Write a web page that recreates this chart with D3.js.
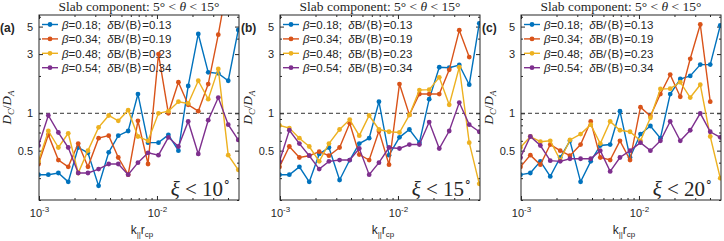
<!DOCTYPE html>
<html>
<head>
<meta charset="utf-8">
<script src="https://cdn.jsdelivr.net/npm/d3@7"></script>
<style>
  body { margin: 0; background: #fff; }
  text { fill: #262626; }
</style>
</head>
<body>
<div id="chart"></div>
<script>
// k_par r_cp bins (shared by all panels)
const kpar = [0.00099, 0.0012, 0.00146, 0.00177, 0.00215, 0.0026, 0.0032, 0.0039, 0.0047, 0.0057, 0.0069,
              0.0084, 0.0103, 0.0125, 0.0152, 0.0184, 0.0224, 0.0272, 0.0331, 0.0402, 0.0489];

const betas = ["0.18", "0.34", "0.48", "0.54"];
const dBs   = ["0.13", "0.19", "0.23", "0.34"];
const xiMax = [10, 15, 20];
const panelLabels = ["(a)", "(b)", "(c)"];

// D_C / D_A, panel (a): xi < 10
const dcA1 = [0.32, 0.32, 0.33, 0.28, 0.53, 0.48, 0.26, 0.485, 0.66, 0.72, 1.43, 0.58, 0.58, 0.67, 0.50, 1.66, 4.36, 2.14, 2.1, 1.83, 4.7];
const dcA2 = [0.39, 0.67, 0.42, 0.37, 0.57, 0.37, 0.63, 0.66, 0.44, 0.32, 0.87, 0.39, 3.0, 1.0, 1.78, 1.17, 1.04, 1.72, 4.3, 12, null];
const dcA3 = [0.41, 0.72, 0.53, 0.69, 0.33, 0.50, 0.77, 0.96, 0.87, 1.06, 0.65, 0.60, 1.0, 1.04, 1.24, 1.2, 1.83, 1.3, 2.28, 0.46, 0.35];
const dcA4 = [0.55, 0.96, 0.70, 0.53, 0.33, 0.33, 0.355, 0.39, 0.39, 0.32, 0.40, 0.48, 0.46, 0.64, 0.54, 0.86, 0.47, 0.88, 1.34, 0.81, 0.61];

// panel (b): xi < 15
const dcB1 = [0.32, 0.32, 0.37, 0.28, 0.47, 0.53, 0.29, 0.42, 0.57, 0.63, 1.24, 0.46, 0.64, 0.74, 0.58, 1.3, 2.35, 2.33, 2.45, 1.7, 5.3];
const dcB2 = [0.37, 0.54, 0.44, 0.455, 0.49, 0.455, 0.53, 0.83, 0.465, 0.42, 0.72, 0.385, 1.72, 0.97, 1.43, 1.43, 1.43, 2.24, 4.67, 2.84, null];
const dcB3 = [0.80, 0.76, 0.63, 0.54, 0.41, 0.57, 0.74, 0.89, 0.66, 0.96, 0.74, 0.71, 0.70, 0.97, 1.54, 1.55, 1.95, 1.17, 2.35, 0.58, 0.27];
const dcB4 = [0.41, 0.73, 0.57, 0.455, 0.355, 0.41, 0.42, 0.42, 0.52, 0.32, 0.40, 0.53, 0.52, 0.56, 0.56, 0.85, 0.52, 0.72, 1.22, 0.81, 0.71];

// panel (c): xi < 20
const dcC1 = [0.32, 0.33, 0.41, 0.31, 0.44, 0.60, 0.28, 0.41, 0.55, 0.56, 1.04, 0.44, 0.68, 0.79, 0.63, 1.43, 1.89, 2.0, 2.47, 2.47, 5.1];
const dcC2 = [0.37, 0.46, 0.385, 0.56, 0.50, 0.455, 0.56, 0.86, 0.44, 0.42, 0.60, 0.42, 1.12, 0.95, 1.43, 2.05, 1.36, 2.75, 5.2, 1.24, null];
const dcC3 = [0.53, 0.65, 0.59, 0.60, 0.42, 0.61, 0.68, 0.81, 0.57, 0.86, 0.73, 0.71, 0.60, 0.92, 1.57, 1.58, 1.78, 1.34, 1.7, 0.65, 0.30];
const dcC4 = [0.44, 0.65, 0.55, 0.415, 0.41, 0.43, 0.43, 0.43, 0.50, 0.34, 0.44, 0.50, 0.58, 0.50, 0.60, 0.86, 0.60, 0.73, 1.0, 0.71, 0.64];

const panels = [[dcA1, dcA2, dcA3, dcA4], [dcB1, dcB2, dcB3, dcB4], [dcC1, dcC2, dcC3, dcC4]];
const colors = ["#0072BD", "#D95319", "#EDB120", "#7E2F8E"];

const yMajor = [0.5, 1, 3, 5];
const yMinor = [0.2, 0.3, 0.4, 0.6, 0.7, 0.8, 0.9, 2, 4, 6];
const xMajor = [1e-3, 1e-2];
const xMinor = [2e-3, 3e-3, 4e-3, 5e-3, 6e-3, 7e-3, 8e-3, 9e-3, 2e-2, 3e-2, 4e-2];

const W = 724, H = 241;
const panelLeft = [39, 280, 521],
      plotTop = 15,
      pw = 200,
      ph = 185;

const svg = d3.select("#chart")
              .append("svg")
              .attr("width", W)
              .attr("height", H);

const x = d3.scaleLog().domain([1e-3, 0.0496]).range([0, pw]);
const y = d3.scaleLog().domain([0.2, 6.2]).range([ph, 0]);

const sans = "Liberation Sans, Arial, sans-serif";
const serif = "Liberation Serif, Times New Roman, serif";

panels.forEach((series, p) => {
    const g = svg.append("g")
                 .attr("transform", `translate(${panelLeft[p]},${plotTop})`);

    const clipId = "clip" + p;
    g.append("clipPath").attr("id", clipId)
     .append("rect").attr("width", pw).attr("height", ph);

    // axes: ticks point inwards, box on
    const axisStyle = sel => {
        sel.select(".domain").remove();
        sel.selectAll("line").attr("stroke", "#262626");
        sel.selectAll("text").attr("font-family", sans).attr("font-size", 11).attr("fill", "#262626");
    };

    g.append("g")
     .call(d3.axisLeft(y).tickValues(yMajor).tickFormat(d3.format("")).tickSizeInner(-4).tickPadding(6))
     .call(axisStyle);
    g.append("g")
     .call(d3.axisLeft(y).tickValues(yMinor).tickFormat("").tickSizeInner(-2))
     .call(axisStyle);
    g.append("g").attr("transform", `translate(${pw},0)`)
     .call(d3.axisRight(y).tickValues(yMajor).tickFormat("").tickSizeInner(-4))
     .call(axisStyle);
    g.append("g").attr("transform", `translate(${pw},0)`)
     .call(d3.axisRight(y).tickValues(yMinor).tickFormat("").tickSizeInner(-2))
     .call(axisStyle);

    const gx = g.append("g").attr("transform", `translate(0,${ph})`)
                .call(d3.axisBottom(x).tickValues(xMajor).tickSizeInner(-4).tickPadding(9))
                .call(axisStyle);
    gx.selectAll(".tick text").text(null)
      .each(function(d) {
          const t = d3.select(this);
          t.append("tspan").text("10");
          t.append("tspan").attr("dy", -5).attr("font-size", 8)
           .text("-" + Math.round(-Math.log10(d)));
      });
    g.append("g").attr("transform", `translate(0,${ph})`)
     .call(d3.axisBottom(x).tickValues(xMinor).tickFormat("").tickSizeInner(-2))
     .call(axisStyle);
    g.append("g")
     .call(d3.axisTop(x).tickValues(xMajor).tickFormat("").tickSizeInner(-4))
     .call(axisStyle);
    g.append("g")
     .call(d3.axisTop(x).tickValues(xMinor).tickFormat("").tickSizeInner(-2))
     .call(axisStyle);

    // dashed reference line at 1
    g.append("line")
     .attr("x1", 0).attr("x2", pw)
     .attr("y1", y(1)).attr("y2", y(1))
     .attr("stroke", "#333").attr("stroke-width", 1)
     .attr("stroke-dasharray", "4,3");

    // data
    const dataG = g.append("g").attr("clip-path", `url(#${clipId})`);
    const line = d3.line()
                   .defined(d => d != null)
                   .x((d, i) => x(kpar[i]))
                   .y(d => y(d));

    series.forEach((vals, s) => {
        dataG.append("path")
             .datum(vals)
             .attr("fill", "none")
             .attr("stroke", colors[s])
             .attr("stroke-width", 1.4)
             .attr("d", line);
        dataG.selectAll(null)
             .data(vals.map((v, i) => ({k: kpar[i], v})).filter(d => d.v != null))
             .enter()
             .append("circle")
             .attr("cx", d => x(d.k))
             .attr("cy", d => y(d.v))
             .attr("r", 2.4)
             .attr("fill", colors[s]);
    });

    // frame
    g.append("rect")
     .attr("width", pw).attr("height", ph)
     .attr("fill", "none").attr("stroke", "#262626").attr("stroke-width", 1);

    // legend
    betas.forEach((b, i) => {
        const ly = 9.5 + i * 14.4;
        g.append("line")
         .attr("x1", 3).attr("x2", 19).attr("y1", ly).attr("y2", ly)
         .attr("stroke", colors[i]).attr("stroke-width", 1.4);
        g.append("circle").attr("cx", 11).attr("cy", ly).attr("r", 2.4).attr("fill", colors[i]);
        const t = g.append("text")
                   .attr("x", 23).attr("y", ly + 4.2)
                   .attr("font-family", sans).attr("font-size", 11.5)
                   .style("white-space", "pre");
        t.append("tspan").attr("font-style", "italic").text("β");
        t.append("tspan").text("=" + b + ";  ");
        t.append("tspan").attr("font-style", "italic").text("δ");
        t.append("tspan").text("B/⟨B⟩=" + dBs[i]);
    });

    // title
    const title = svg.append("text")
                     .attr("x", panelLeft[p] + pw / 2).attr("y", 11)
                     .attr("text-anchor", "middle")
                     .attr("font-family", serif).attr("font-size", 13.5);
    title.append("tspan").text("Slab component: 5° < ");
    title.append("tspan").attr("font-style", "italic").text("θ");
    title.append("tspan").text(" < 15°");

    // panel label
    svg.append("text")
       .attr("x", panelLeft[p] - 39).attr("y", 32)
       .attr("font-family", sans).attr("font-size", 12).attr("font-weight", "bold")
       .text(panelLabels[p]);

    // y label
    const yl = g.append("text")
                .attr("transform", `translate(-28,${ph / 2}) rotate(-90)`)
                .attr("text-anchor", "middle")
                .attr("font-family", serif).attr("font-size", 13);
    yl.append("tspan").attr("font-style", "italic").text("D");
    yl.append("tspan").attr("font-style", "italic").attr("font-size", 9).attr("dy", 3).text("C");
    yl.append("tspan").attr("dy", -3).text("/");
    yl.append("tspan").attr("font-style", "italic").text("D");
    yl.append("tspan").attr("font-style", "italic").attr("font-size", 9).attr("dy", 3).text("A");

    // x label
    const xl = g.append("text")
                .attr("x", pw / 2 + 3).attr("y", ph + 34)
                .attr("text-anchor", "middle")
                .attr("font-family", sans).attr("font-size", 12);
    xl.append("tspan").text("k");
    xl.append("tspan").attr("font-size", 8).attr("dy", 3).text("||");
    xl.append("tspan").attr("dy", -3).text("r");
    xl.append("tspan").attr("font-size", 8).attr("dy", 3).text("cp");

    // xi annotation
    const xi = g.append("text")
                .attr("x", pw - 8).attr("y", ph - 4)
                .attr("text-anchor", "end")
                .attr("font-family", serif).attr("font-size", 21);
    xi.append("tspan").attr("font-style", "italic").text("ξ");
    xi.append("tspan").text(" < " + xiMax[p]);
    xi.append("tspan").attr("font-size", 12).attr("dy", -10).text("∘");
});
</script>
</body>
</html>
